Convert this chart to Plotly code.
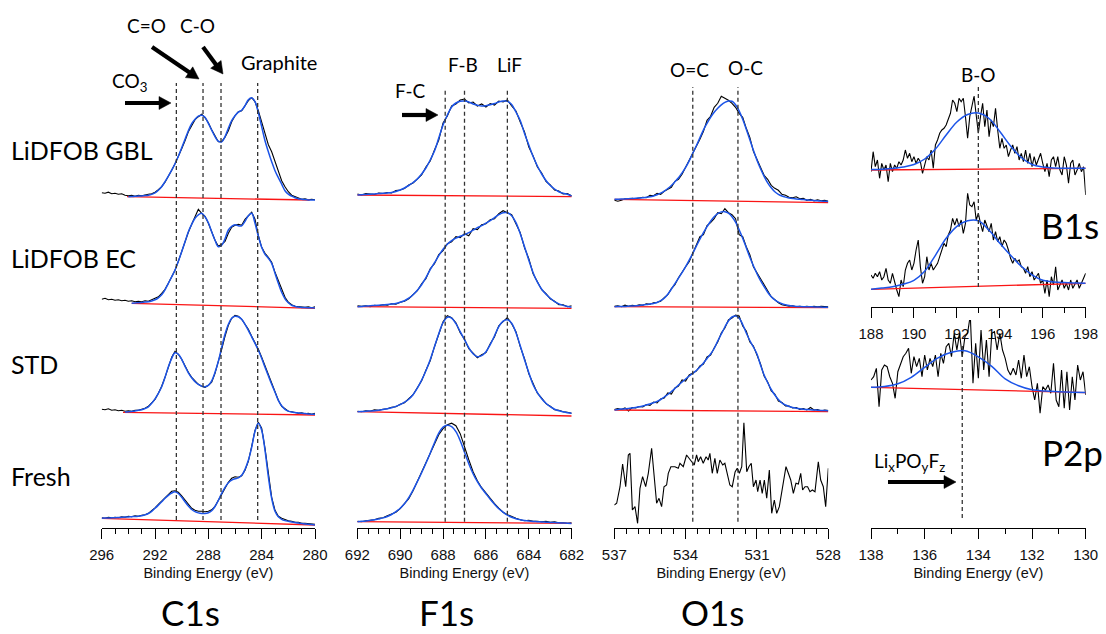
import math
import plotly.graph_objects as go

W, H = 1106, 634


def fx(px):
    return px / W


def fy(py):
    return (H - py) / H


# ---------------------------------------------------------------- C 1s
c1s_be = [296.0, 295.75, 295.5, 295.25, 295.0, 294.75, 294.5, 294.25, 294.0, 293.75, 293.5, 293.25, 293.0,
          292.75, 292.5, 292.25, 292.0, 291.75, 291.5, 291.25, 291.0, 290.75, 290.5, 290.25, 290.0, 289.75,
          289.5, 289.25, 289.0, 288.75, 288.5, 288.25, 288.0, 287.75, 287.5, 287.25, 287.0, 286.75, 286.5,
          286.25, 286.0, 285.75, 285.5, 285.25, 285.0, 284.75, 284.5, 284.25, 284.0, 283.75, 283.5, 283.25,
          283.0, 282.75, 282.5, 282.25, 282.0, 281.75, 281.5, 281.25, 281.0, 280.75, 280.5, 280.25, 280.0]

c1s_gbl_data = [4, 3.5, 4.5, 3, 3.5, 2.5, 3, 1.5, 1, 1.5, 0.5, 1.5, 1,
                2, 2.5, 3, 4.5, 7, 10, 14.5, 20, 26.5, 33, 40, 48, 56,
                65, 71, 77, 80, 82.5, 79, 74, 67, 60.5, 55, 55, 59.5, 66,
                75, 81, 85, 86, 91, 96, 99, 95, 86, 74, 62, 52, 45,
                35, 25, 16, 10, 5, 1.5, 0, -1.5, -2.5, -2, -3, -2.5, -3]
c1s_gbl_fit = [None, None, None, None, None, None, None, None, 0, 0.2, 0.4, 0.6, 0.8,
               1.1, 1.5, 2.3, 3.8, 6.5, 10, 15, 20.5, 26.5, 33, 40.5, 49, 57.5,
               66, 73, 77.5, 80.5, 81.5, 79.5, 73.3, 66.5, 60, 55.5, 55, 60, 68.5,
               76, 81, 84.5, 86.5, 91, 97, 99, 95, 84, 70, 56, 45, 35,
               26, 19, 12.5, 6, 2.5, 0.5, -1, -2, -2.5, -2.9, -3.2, -3.3, -3.4]
c1s_gbl_bg_be = [294.1, 280.4]
c1s_gbl_bg = [0, -3.3]

c1s_ec_data = [4, 5, 3.5, 4, 3, 3.5, 2.5, 3, 2, 2.5, 1.5, 2, 1.5,
               2.5, 2, 3.5, 5, 6.5, 10, 14, 20, 26, 33, 42, 52, 62,
               71, 79, 86, 94, 90, 87, 80, 72, 63, 57, 59, 62, 70,
               76, 78, 79, 78, 84, 88, 91, 84, 68, 56, 50, 46, 41,
               31, 22, 13, 6, 1, -1.5, -3, -3.5, -4, -4, -3.5, -4.5, -3.5]
c1s_ec_fit = [None, None, None, None, None, None, None, None, None, 0, 0.3, 0.6, 0.9,
              1.2, 1.5, 2.3, 3.5, 5.5, 8.5, 13.5, 20, 26.5, 33.3, 42, 51.6, 61.5,
              71.6, 79, 85, 88.5, 90, 86.5, 80.5, 71.6, 63, 56.6, 58, 64.5, 73.3,
              77, 78.5, 77.5, 77.5, 82, 87.5, 90, 80, 67, 56, 49, 45, 40,
              30, 20, 11, 4.5, 0.5, -2, -3, -3.8, -4.1, -4.3, -4.4, -4.5, -4.6]
c1s_ec_bg_be = [293.75, 280.0]
c1s_ec_bg = [0, -5]

c1s_std_data = [3, 2.5, 3.5, 2, 2.5, 1.5, 2, 1, 1.5, 1, 2, 2, 3,
                4, 6, 9, 13, 19, 26, 35, 46, 55, 61, 58, 53, 46,
                40, 35, 31, 28, 26, 25, 27, 30, 39, 50, 63, 76, 87,
                94, 97, 96, 93, 88, 83, 76, 70, 63, 55, 46, 37, 28,
                20, 12, 6, 3, 1, 0.5, -0.5, -1, -0.5, -1.5, -1, -2, -1]
c1s_std_fit = [None, None, None, None, None, None, None, 0.2, 0.5, 0.9, 1.3, 2, 2.6,
               3.8, 5.5, 9, 13.5, 19, 25.6, 35, 45.6, 54, 59.6, 58, 53, 46,
               39.5, 34.5, 30.6, 28, 26, 25.6, 27, 31.5, 40, 51, 65, 78, 88,
               94, 96, 95.5, 93, 88, 82, 75.5, 69, 62, 54, 45, 36.5, 28,
               20, 12, 6.5, 3, 1.2, 0.3, -0.2, -0.6, -1, -1.3, -1.6, -1.9, -2]
c1s_std_bg_be = [294.4, 280.0]
c1s_std_bg = [0, -2.7]

c1s_fresh_data = [0.5, 0, 1, 0.5, 1, 0.5, 1.5, 1, 2, 1.5, 2.5, 2, 3,
                  3.5, 5, 7.5, 10.5, 14, 17, 21, 24, 27, 27.5, 26, 22.5, 18,
                  13.5, 10, 8, 7, 7, 6.5, 7, 8.5, 12, 18, 24, 30, 36,
                  40, 41.5, 41, 42.5, 48, 57, 72, 88, 96, 90, 70, 43, 21,
                  8, 2, 0, -1.5, -2.5, -3, -4, -4, -5, -5, -5.5, -6, -6]
c1s_fresh_fit = [0, 0.2, 0.3, 0.5, 0.6, 0.8, 1, 1.2, 1.4, 1.6, 1.8, 2.1, 2.6,
                 3.4, 4.8, 7, 10, 13.2, 16.5, 20, 23, 25.3, 26.5, 24.8, 21, 16.5,
                 12.2, 8.8, 6.6, 5.4, 4.8, 4.8, 5.6, 7.6, 11.8, 18, 25, 31, 35.5,
                 38.2, 39.5, 40.5, 43, 49, 58, 71, 87, 95, 88, 68, 41.6, 20,
                 7, 1.5, -1, -2.3, -3, -3.6, -4.2, -4.8, -5.2, -5.6, -6, -6.3, -6.6]
c1s_fresh_bg_be = [296.0, 280.0]
c1s_fresh_bg = [0, -6.7]

c1s_peaks = [290.4, 288.4, 287.05, 284.3]

# ---------------------------------------------------------------- F 1s
f1s_be = [692.0, 691.8, 691.6, 691.4, 691.2, 691.0, 690.8, 690.6, 690.4, 690.2,
          690.0, 689.8, 689.6, 689.4, 689.2, 689.0, 688.8, 688.6, 688.4, 688.2,
          688.0, 687.8, 687.6, 687.4, 687.2, 687.0, 686.8, 686.6, 686.4, 686.2,
          686.0, 685.8, 685.6, 685.4, 685.2, 685.0, 684.8, 684.6, 684.4, 684.2,
          684.0, 683.8, 683.6, 683.4, 683.2, 683.0, 682.8, 682.6, 682.4, 682.2,
          682.0]

f1s_gbl_data = [1, 0, 1.5, 1, 0.5, 2, 1.5, 2.5, 2, 4.5,
                5, 6.5, 10, 12, 16.5, 20, 28, 34, 45, 55,
                72, 79, 89, 91, 95, 96, 92, 93, 89, 91,
                88, 91.5, 90, 94, 93, 95, 89, 84, 73, 63,
                48, 39, 28, 22, 13.5, 10, 5, 4, 1, 1.5,
                -1]
f1s_gbl_fit = [0, 0.2, 0.5, 0.8, 1.1, 1.4, 1.7, 2.1, 2.6, 3.5,
               5, 7, 9.5, 12.5, 16, 21, 27, 35, 44, 57,
               70, 80, 88, 92, 93.8, 94, 93, 91, 89.8, 89,
               89.3, 90.2, 91.5, 93, 94, 93.8, 90.5, 83, 74.5, 61.5,
               50, 38.5, 29, 21, 14.5, 9.5, 6, 3.3, 1.8, 0.8,
               -1]
f1s_gbl_bg = [0, -1.7]

f1s_ec_data = [1, 0.5, 1, 0, 1.5, 1, 2, 1.5, 3, 2.5,
               4.5, 5.5, 8, 12.5, 16, 23, 28, 38, 43, 52,
               56, 63, 65, 70, 69, 73, 71, 78, 77, 82,
               83, 87, 88, 93, 96, 94, 92, 83, 74, 59,
               48, 33, 25, 17, 13, 8, 5.5, 2, 2, 0,
               1]
f1s_ec_fit = [0, 0.3, 0.6, 0.9, 1.2, 1.5, 1.8, 2.1, 2.6, 3.3,
              4.5, 6, 8.5, 12, 16.5, 22, 29, 37, 44, 51,
              57.5, 62.5, 66, 68.5, 70.5, 72, 74, 76.5, 79, 81,
              83.5, 86, 89, 92, 94, 94, 91, 84, 73, 60,
              46.5, 34, 24.5, 17.5, 12.5, 8.5, 5, 2.8, 1.3, 0.3,
              -0.5]
f1s_ec_bg = [0, -1.7]

f1s_std_data = [0.5, 0, 1, 0.5, 2, 1.5, 2.5, 3, 4.5, 5,
                7.5, 9, 13, 17, 24, 31, 41.5, 51, 65, 77,
                90, 96, 94, 89, 79, 72.5, 63, 58.5, 54, 57,
                59, 68, 75, 86, 90, 94, 88, 80, 65, 53,
                38, 28, 18.5, 13.5, 8, 5.5, 2, 1.5, 0, -0.5,
                -1.5]
f1s_std_fit = [0, 0.2, 0.4, 0.7, 1, 1.5, 2.2, 3, 4, 5.3,
               7, 9.5, 12.5, 17, 23.5, 31.5, 41, 52, 65, 78,
               89, 94.5, 93.5, 88, 80, 72, 64, 58, 55, 56,
               60, 67, 76, 85, 90.5, 92, 88.5, 79, 66, 52,
               39, 27, 19, 13, 8.5, 5, 2.5, 1, 0, -1,
               -1.5]
f1s_std_bg = [0, -4.3]

f1s_fresh_data = [0.5, 0, 1, 1.5, 2, 3.5, 4, 6, 7.5, 9.5,
                  13, 17.5, 23, 31, 40.5, 49, 58, 68, 78, 87,
                  93, 97, 98.5, 96, 88, 74, 62, 50, 41, 34,
                  28.5, 22.5, 18, 13.5, 9.5, 7, 5, 3.5, 2, 1,
                  1.5, 0.5, 0.5, 0, 0.5, -0.5, 0, -1, -1, -1.5,
                  -1]
f1s_fresh_fit = [0, 0.4, 0.8, 1.3, 1.9, 2.8, 3.8, 5.2, 7.2, 10,
                 13.5, 18, 24, 31.5, 40, 49, 58.5, 68.5, 79, 88.5,
                 94.5, 96.5, 95, 90, 81, 69.5, 58, 48, 40, 33.5,
                 28, 22.5, 17.5, 13, 9.5, 6.5, 4.5, 3, 2, 1.2,
                 0.6, 0.2, 0, -0.3, -0.5, -0.7, -0.9, -1.1, -1.3, -1.5,
                 -1.7]
f1s_fresh_bg = [0, -1.7]
f1s_bg_be = [692.0, 682.0]

f1s_peaks = [687.9, 687.0, 685.0]

# ---------------------------------------------------------------- O 1s
o1s_be = [537.0, 536.85, 536.7, 536.55, 536.4, 536.25, 536.1, 535.95, 535.8, 535.65,
          535.5, 535.35, 535.2, 535.05, 534.9, 534.75, 534.6, 534.45, 534.3, 534.15,
          534.0, 533.85, 533.7, 533.55, 533.4, 533.25, 533.1, 532.95, 532.8, 532.65,
          532.5, 532.35, 532.2, 532.05, 531.9, 531.75, 531.6, 531.45, 531.3, 531.15,
          531.0, 530.85, 530.7, 530.55, 530.4, 530.25, 530.1, 529.95, 529.8, 529.65,
          529.5, 529.35, 529.2, 529.05, 528.9, 528.75, 528.6, 528.45, 528.3, 528.15,
          528.0]

o1s_gbl_data = [-1, -2, -1, 0.5, 0, 1, 0.5, 1.5, 2, 1.5,
                4, 3.5, 6, 5, 8, 10, 12, 18, 20, 25,
                32, 39, 45, 52, 60, 68, 79, 83, 92, 96,
                103, 101, 99, 96, 92, 86, 82, 71, 62, 48,
                40, 31, 24, 20, 14, 11, 9, 5, 4, 2,
                1.5, 2.5, 0.5, 1, -1, 0, -1.5, -0.5, -1.5, -1,
                -2]
o1s_gbl_fit = [0, 0.1, 0.2, 0.4, 0.6, 0.8, 1.0, 1.3, 1.6, 2.0,
               2.6, 3.4, 4.5, 6.2, 8.2, 10.8, 13.8, 17.5, 21.5, 26.5,
               32, 38.5, 46, 53.5, 61.5, 69.5, 76, 82, 87, 91,
               94.5, 97, 98.3, 98, 94.5, 88.5, 80, 70, 59.5, 49,
               39, 30.5, 23, 16.5, 11.5, 7.5, 5, 3.3, 2.2, 1.4,
               0.8, 0.3, 0, -0.3, -0.6, -0.9, -1.2, -1.5, -1.8, -2.0,
               -2.3]
o1s_gbl_bg = [0, -3.4]

o1s_ec_data = [0.5, 1, 0, 1.5, 0.5, 1.5, 1, 2, 1.5, 3,
               2.5, 4, 4.5, 5.5, 9, 12, 18, 22, 29, 35,
               40, 45, 53, 62, 70, 72, 81, 84, 88, 94,
               93, 98, 94, 92, 88, 72, 70, 60, 52, 40,
               34, 27, 21, 15, 10, 7, 4, 2, 1, 0.5,
               1, 0, 0.5, 0, 0.5, 0, 0.5, 0, 0.5, 0,
               0]
o1s_ec_fit = [0, 0.1, 0.2, 0.3, 0.5, 0.7, 0.9, 1.2, 1.6, 2.1,
              2.7, 3.3, 4.2, 6, 8.5, 12.5, 17.5, 23, 28.5, 34,
              40, 46.5, 53.4, 60.5, 67.5, 74, 80, 85.5, 90, 93,
              94.8, 95, 93.5, 90, 84.5, 77, 68.5, 59, 49.5, 41,
              33, 26, 20, 14.5, 10, 6.8, 4.5, 3, 2, 1.2,
              0.7, 0.3, 0.1, 0, 0, -0.1, -0.2, -0.3, -0.4, -0.5,
              -0.6]
o1s_ec_bg = [0, -1]

o1s_std_data = [0.5, 1.5, 0.5, 2, -1, 2.5, 2, 3.5, 3, 5.5,
                4.5, 8, 7, 11, 12, 17, 16, 22, 24, 30,
                29, 35, 37, 39, 44, 46, 53, 55, 62, 68,
                77, 82, 90, 92, 95, 94, 84, 79, 68, 64,
                55, 46, 34, 28, 19, 16, 9, 7.5, 4, 4,
                2, 2.5, 0.5, 1.5, 0, 2.5, 0, 0.5, -1, 0,
                -0.5]
o1s_std_fit = [0, 0.5, 0.9, 1.2, 1.5, 2, 2.6, 3.3, 4.1, 5,
               6, 7.2, 8.6, 10.5, 13, 15.5, 18.5, 21.5, 25, 28,
               31, 34, 36.7, 39.5, 43, 47, 51.5, 56, 61.5, 69,
               76, 83, 89, 93, 94, 92, 85.5, 77, 69.5, 63,
               56, 45, 35, 27.5, 20.5, 15, 10.5, 7, 5, 3.5,
               2.5, 1.8, 1.2, 0.8, 0.5, 0.2, 0, -0.2, -0.4, -0.5,
               -0.7]
o1s_std_bg = [0, -1.7]
o1s_bg_be = [537.0, 528.0]

o1s_fresh_be = [537.00, 536.90, 536.76, 536.65, 536.52, 536.41, 536.34, 536.24, 536.13, 536.02,
                535.92, 535.81, 535.68, 535.57, 535.43, 535.33, 535.22, 535.12, 535.01, 534.91,
                534.80, 534.73, 534.62, 534.45, 534.31, 534.24, 534.10, 533.96, 533.85, 533.75,
                533.64, 533.54, 533.47, 533.37, 533.26, 533.14, 533.05, 532.98, 532.88, 532.77,
                532.67, 532.56, 532.44, 532.35, 532.25, 532.14, 532.04, 531.92, 531.83, 531.74,
                531.64, 531.55, 531.43, 531.34, 531.24, 531.15, 531.04, 530.97, 530.87, 530.78,
                530.69, 530.59, 530.48, 530.38, 530.27, 530.17, 530.06, 529.96, 529.86, 529.78,
                529.68, 529.58, 529.47, 529.36, 529.26, 529.16, 529.08, 528.98, 528.87, 528.77,
                528.67, 528.56, 528.42, 528.32, 528.21, 528.11, 528.00]
o1s_fresh_data = [16, 17.7, 34.3, 57, 34.3, 66, 67.7, 11, 14.3, -2.3,
                  32.7, 44.3, 34.3, 47.7, 72.7, 47.7, 17.7, 22.7, 14.3, 34.3,
                  36, 47.7, 54.3, 54.3, 52.7, 57.7, 54.3, 66, 62.7, 59.3,
                  56, 66, 59.3, 64.3, 57.7, 64.3, 61, 67.7, 47.7, 62.7,
                  47.7, 61, 56, 57.7, 47.7, 36, 34.3, 49, 52.7, 47.7,
                  54.3, 98.3, 49.3, 54.3, 57.7, 34.3, 41, 29.3, 41, 27.7,
                  41, 22.7, 51, 7.7, 21, 7.7, 14.3, 27.7, 39.3, 54.3,
                  47.7, 41, 27.7, 37.7, 37, 47.7, 31, 34.3, 34.3, 29.3,
                  31, 29.3, 59.3, 41, 34.3, 14.3, 52.7]

o1s_peaks = [533.7, 531.8]

# ---------------------------------------------------------------- B 1s
b1s_be = [188.0, 188.1, 188.2, 188.3, 188.4, 188.5, 188.6, 188.7, 188.8, 188.9,
          189.0, 189.1, 189.2, 189.3, 189.4, 189.5, 189.6, 189.7, 189.8, 189.9,
          190.0, 190.1, 190.2, 190.3, 190.4, 190.5, 190.6, 190.7, 190.8, 190.9,
          191.0, 191.1, 191.2, 191.3, 191.4, 191.5, 191.6, 191.7, 191.8, 191.9,
          192.0, 192.1, 192.2, 192.3, 192.4, 192.5, 192.6, 192.7, 192.8, 192.9,
          193.0, 193.1, 193.2, 193.3, 193.4, 193.5, 193.6, 193.7, 193.8, 193.9,
          194.0, 194.1, 194.2, 194.3, 194.4, 194.5, 194.6, 194.7, 194.8, 194.9,
          195.0, 195.1, 195.2, 195.3, 195.4, 195.5, 195.6, 195.7, 195.8, 195.9,
          196.0, 196.1, 196.2, 196.3, 196.4, 196.5, 196.6, 196.7, 196.8, 196.9,
          197.0, 197.1, 197.2, 197.3, 197.4, 197.5, 197.6, 197.7, 197.8, 197.9,
          198.0]
b1s_fit_be = [188.0, 188.5, 189.0, 189.5, 190.0, 190.5, 191.0, 191.5, 192.0, 192.5,
              193.0, 193.5, 194.0, 194.5, 195.0, 195.5, 196.0, 196.5, 197.0, 197.5,
              198.0]

b1s_gbl_data = [-1.7, 18.3, 3.3, 10, -8.3, 6.7, 0, 5, -11.7, 6.7,
                -1.7, 5, 1.7, 8.3, 5, 10, 20, 11.7, 16.7, 8.3,
                13.3, 6.7, 11.7, 8.3, -3.3, 5, 13.3, 10, 20, 1.7,
                25, 30, 36.7, 40, 41.7, 45, 50, 56.7, 70, 66.7,
                58.3, 71.7, 68.3, 71.7, 53.3, 31.7, 53.3, 63.3, 74, 55,
                36.7, 53.3, 66.7, 43.3, 60, 33.3, 50, 43.3, 61.7, 40,
                21.7, 31.7, 21.7, 25, 13.3, 20, 25, 16.7, 23.3, 10,
                16.7, 8.3, 20, 6.7, 16.7, 3.3, 13.3, 5, 10, 16.7,
                6.7, -1.7, 6.7, -6.7, 10, 13.3, 3.3, 13.3, 0, -5,
                13.3, 5, -13.3, 6.7, 10, -5, 0, 6.7, -1.7, 3.3,
                -25]
b1s_gbl_fit = [0.5, 0.8, 1.5, 3, 5.5, 11, 21, 35, 48, 55.5,
               57, 51.5, 38.5, 24, 12.5, 5.5, 3, 2, 1.8, 1.7,
               1.7]
b1s_gbl_bg = [0, 1.7]

b1s_ec_data = [14.3, 11, 16, 12.6, 17.6, 9.3, 12.6, 21, 9.3, 6,
               16, 6, -0.7, -7.4, 9.3, 2.6, 19.3, 26, 29.3, 19.3,
               26, 39.3, 49.3, 22.6, 6, 12.6, 32.6, 19.3, 26, 19.3,
               22.6, 26, 32.6, 39.3, 46, 42.6, 54.3, 59.3, 71, 64.3,
               71, 62.6, 69.3, 56, 66, 96, 84.3, 82.6, 87.6, 69.3,
               76, 66, 57.6, 69.3, 62.6, 57.6, 66, 49.3, 57.6, 47.6,
               52.6, 42.6, 49.3, 46, 39.3, 31, 26, 31, 27.6, 29.3,
               22.6, 21, 16, 22.6, 12.6, 17.6, 9.3, 12.6, 16, 6,
               9.3, -4, 9.3, -7.4, 12.6, 4.3, 22.6, -0.7, 4.3, 9.3,
               1, 6, -0.7, 9.3, 1, 6, 9.3, 1, 6, 9.3,
               16]
b1s_ec_fit = [0, 1.2, 2.5, 5, 9, 18, 34, 51, 63, 68.5,
              68.5, 59, 46, 34, 23, 14.5, 9, 7.3, 6.7, 6.3,
              6]
b1s_ec_bg = [0, 6]
b1s_bg_be = [188.0, 198.0]

b1s_peaks = [193.0]

# ---------------------------------------------------------------- P 2p
p2p_be = [138.0, 137.9, 137.8, 137.7, 137.6, 137.5, 137.4, 137.3, 137.2, 137.1,
          137.0, 136.9, 136.8, 136.7, 136.6, 136.5, 136.4, 136.3, 136.2, 136.1,
          136.0, 135.9, 135.8, 135.7, 135.6, 135.5, 135.4, 135.3, 135.2, 135.1,
          135.0, 134.9, 134.8, 134.7, 134.6, 134.5, 134.4, 134.3, 134.2, 134.1,
          134.0, 133.9, 133.8, 133.7, 133.6, 133.5, 133.4, 133.3, 133.2, 133.1,
          133.0, 132.9, 132.8, 132.7, 132.6, 132.5, 132.4, 132.3, 132.2, 132.1,
          132.0, 131.9, 131.8, 131.7, 131.6, 131.5, 131.4, 131.3, 131.2, 131.1,
          131.0, 130.9, 130.8, 130.7, 130.6, 130.5, 130.4, 130.3, 130.2, 130.1,
          130.0]
p2p_fit_be = [138.0, 137.5, 137.0, 136.5, 136.0, 135.5, 135.0, 134.5, 134.0,
              133.5, 133.0, 132.5, 132.0, 131.5, 131.0, 130.5, 130.0]

p2p_std_data = [7.3, 10.6, 19, -19.4, 17.3, 22.3, 20.6, 10.6, 4, -11,
                15.6, 22.3, 30.6, 34, 39, 14, 30.6, 20.6, 29, 10.6,
                32.3, 17.3, 29, 20.6, 32.3, 10.6, 34, 24, 40.6, 44,
                30.6, 54, 37.3, 54, 30.6, 50.6, 54, 72.3, 4, 44,
                9, 57.3, 17.3, 47.3, 10.6, 54, 55.6, 37.3, 54, 37.3,
                29, 17.3, 12.3, 19, 12.3, 27.3, 9, 32.3, 10.6, 20.6,
                0.6, -12.7, 4, -26, 0.6, -2.7, 2.3, -6, 24, -12.7,
                -19.4, 17.3, -21, 15.6, -22.7, 10.6, -12.7, 22.3, 7.3, 15.6,
                -7.7]
p2p_std_fit = [0, 0.8, 3.5, 10, 20, 29.5, 35, 36.5, 30.5,
               21, 8.5, 1.5, -2.5, -3.8, -4.4, -4.9, -5.3]
p2p_std_bg_be = [138.0, 130.0]
p2p_std_bg = [0, -5.3]

p2p_peaks = [134.6]

# ---------------------------------------------------------------- styling
BLACK = "#000000"
BLUE = "rgb(28,84,232)"
RED = "rgb(250,20,20)"
DASH = "#333333"
TEXT_FONT = "Lato, 'Open Sans', sans-serif"
TICK_FONT = "'Liberation Sans', Arial, sans-serif"

# vertical stacking of the spectra inside each panel (axis units)
STACK = {
    "c1s": {"gbl": 331.3, "ec": 224.7, "std": 115.7, "fresh": 9.7},
    "f1s": {"gbl": 333.0, "ec": 221.3, "std": 116.3, "fresh": 6.3},
    "o1s": {"gbl": 328.7, "ec": 221.3, "std": 118.0, "fresh": 7.0},
    "b1s": {"gbl": 137.0, "ec": 17.7},
    "p2p": {"std": 140.7},
}

AXES = {"c1s": ("x", "y"), "f1s": ("x2", "y2"), "o1s": ("x3", "y3"),
        "b1s": ("x4", "y4"), "p2p": ("x5", "y5")}

fig = go.Figure()


def shifted(vals, off):
    return [None if v is None else v + off for v in vals]


def add_line(panel, be, vals, off, color, width, shape="linear"):
    xa, ya = AXES[panel]
    fig.add_trace(go.Scatter(
        x=be, y=shifted(vals, off), mode="lines", xaxis=xa, yaxis=ya,
        line=dict(color=color, width=width, shape=shape), hoverinfo="skip",
        connectgaps=False,
    ))


def add_spectrum(panel, row, be, data, fit=None, fit_be=None, bg_be=None, bg=None):
    off = STACK[panel][row]
    add_line(panel, be, data, off, BLACK, 1.1)
    if bg is not None:
        add_line(panel, bg_be, bg, off, RED, 1.3)
    if fit is not None:
        add_line(panel, fit_be if fit_be is not None else be, fit, off, BLUE, 1.5, "spline")


add_spectrum("c1s", "gbl", c1s_be, c1s_gbl_data, c1s_gbl_fit, None, c1s_gbl_bg_be, c1s_gbl_bg)
add_spectrum("c1s", "ec", c1s_be, c1s_ec_data, c1s_ec_fit, None, c1s_ec_bg_be, c1s_ec_bg)
add_spectrum("c1s", "std", c1s_be, c1s_std_data, c1s_std_fit, None, c1s_std_bg_be, c1s_std_bg)
add_spectrum("c1s", "fresh", c1s_be, c1s_fresh_data, c1s_fresh_fit, None, c1s_fresh_bg_be, c1s_fresh_bg)

add_spectrum("f1s", "gbl", f1s_be, f1s_gbl_data, f1s_gbl_fit, None, f1s_bg_be, f1s_gbl_bg)
add_spectrum("f1s", "ec", f1s_be, f1s_ec_data, f1s_ec_fit, None, f1s_bg_be, f1s_ec_bg)
add_spectrum("f1s", "std", f1s_be, f1s_std_data, f1s_std_fit, None, f1s_bg_be, f1s_std_bg)
add_spectrum("f1s", "fresh", f1s_be, f1s_fresh_data, f1s_fresh_fit, None, f1s_bg_be, f1s_fresh_bg)

add_spectrum("o1s", "gbl", o1s_be, o1s_gbl_data, o1s_gbl_fit, None, o1s_bg_be, o1s_gbl_bg)
add_spectrum("o1s", "ec", o1s_be, o1s_ec_data, o1s_ec_fit, None, o1s_bg_be, o1s_ec_bg)
add_spectrum("o1s", "std", o1s_be, o1s_std_data, o1s_std_fit, None, o1s_bg_be, o1s_std_bg)
add_spectrum("o1s", "fresh", o1s_fresh_be, o1s_fresh_data)

add_spectrum("b1s", "gbl", b1s_be, b1s_gbl_data, b1s_gbl_fit, b1s_fit_be, b1s_bg_be, b1s_gbl_bg)
add_spectrum("b1s", "ec", b1s_be, b1s_ec_data, b1s_ec_fit, b1s_fit_be, b1s_bg_be, b1s_ec_bg)

add_spectrum("p2p", "std", p2p_be, p2p_std_data, p2p_std_fit, p2p_fit_be, p2p_std_bg_be, p2p_std_bg)

# dashed peak markers: (panel, energies, bottom, top) in axis units
markers = [
    ("c1s", c1s_peaks, 8, 445),
    ("f1s", f1s_peaks, 6.3, 438),
    ("o1s", o1s_peaks, 6.3, 441),
    ("b1s", b1s_peaks, 20, 222),
    ("p2p", p2p_peaks, 10, 183),
]
for panel, energies, y0, y1 in markers:
    xa, ya = AXES[panel]
    for e in energies:
        fig.add_shape(type="line", xref=xa, yref=ya, x0=e, x1=e, y0=y0, y1=y1,
                      line=dict(color=DASH, width=1.3, dash="4px,3px"))


def xaxis_style(left, right, rng, dtick, minor, tick0, title=True):
    d = dict(
        domain=[fx(left), fx(right)], range=rng, showgrid=False, zeroline=False,
        showline=True, linecolor=BLACK, linewidth=1.2, mirror=False,
        ticks="outside", ticklen=10, tickwidth=1.2, tickcolor=BLACK,
        ticklabelstandoff=3,
        dtick=dtick, tick0=tick0, tickfont=dict(family=TICK_FONT, size=15, color="#111"),
        minor=dict(dtick=minor, tick0=tick0, ticks="outside", ticklen=5,
                   tickwidth=1.2, tickcolor=BLACK, showgrid=False),
        fixedrange=True, automargin=False,
    )
    if title:
        d["title"] = dict(text="Binding Energy (eV)", standoff=5,
                          font=dict(family=TICK_FONT, size=14.5, color="#111"))
    return d


def yaxis_style(bottom, top, anchor):
    return dict(domain=[fy(bottom), fy(top)], range=[0, bottom - top], visible=False,
                anchor=anchor, fixedrange=True)


fig.update_layout(
    width=W, height=H, margin=dict(l=0, r=0, t=0, b=0, pad=0, autoexpand=False),
    paper_bgcolor="white", plot_bgcolor="rgba(0,0,0,0)",
    showlegend=False, hovermode=False,
    xaxis=dict(xaxis_style(101.7, 315, [296, 280], 4, 1, 280), anchor="y"),
    xaxis2=dict(xaxis_style(357.3, 571.7, [692, 682], 2, 0.5, 682), anchor="y2"),
    xaxis3=dict(xaxis_style(614.3, 828.3, [537, 528], 3, 0.5, 528), anchor="y3"),
    xaxis4=dict(xaxis_style(871, 1085.7, [188, 198], 2, 1, 188, title=False), anchor="y4"),
    xaxis5=dict(xaxis_style(871, 1085.7, [138, 130], 2, 1, 130), anchor="y5"),
    yaxis=yaxis_style(528, 40, "x"),
    yaxis2=yaxis_style(528, 40, "x2"),
    yaxis3=yaxis_style(528, 40, "x3"),
    yaxis4=yaxis_style(307, 60, "x4"),
    yaxis5=yaxis_style(528, 320, "x5"),
)

# text labels (text, x px, y px, size, horizontal anchor, vertical anchor)
labels = [
    ("C=O", 146, 26, 19, "center", "middle"), ("C-O", 197, 26, 19, "center", "middle"),
    ("Graphite", 279, 62, 20, "center", "middle"), ("CO<sub>3</sub>", 129, 82, 19, "center", "middle"),
    ("F-C", 410, 90, 19, "center", "middle"), ("F-B", 463, 64, 19, "center", "middle"),
    ("LiF", 509, 64, 19, "center", "middle"),
    ("O=C", 689, 70, 19, "center", "middle"), ("O-C", 745, 67, 19, "center", "middle"),
    ("B-O", 978, 74, 19, "center", "middle"),
    ("Li<sub>x</sub>PO<sub>y</sub>F<sub>z</sub>", 909, 462, 19, "center", "middle"),
    ("B1s", 1070, 225, 35, "center", "middle"), ("P2p", 1072, 452, 35, "center", "middle"),
    ("C1s", 190, 634, 35, "center", "bottom"), ("F1s", 447, 634, 35, "center", "bottom"),
    ("O1s", 712, 634, 35, "center", "bottom"),
    ("LiDFOB GBL", 10, 150, 25, "left", "middle"), ("LiDFOB EC", 10, 258, 25, "left", "middle"),
    ("STD", 10, 364, 25, "left", "middle"), ("Fresh", 10, 476, 25, "left", "middle"),
]
for text, px, py, size, xanc, yanc in labels:
    fig.add_annotation(text=text, x=fx(px), y=fy(py), xref="paper", yref="paper",
                       xanchor=xanc, yanchor=yanc, showarrow=False, borderpad=0,
                       font=dict(family=TEXT_FONT, size=size, color=BLACK))

# pointer arrows (tail x, tail y, head x, head y) in px, drawn as shaft + head
arrows = [
    (125, 103, 171, 103),
    (152, 47, 199, 79),
    (203, 47, 223, 74),
    (402, 115, 438, 115),
    (888, 482, 956, 482),
]
HEAD_LEN, HEAD_HALF, SHAFT = 12, 6.5, 4.2
for tx, ty, hx, hy in arrows:
    dx, dy = hx - tx, hy - ty
    d = math.hypot(dx, dy)
    ux, uy = dx / d, dy / d
    nx, ny = -uy, ux
    bx, by = hx - HEAD_LEN * ux, hy - HEAD_LEN * uy
    fig.add_shape(type="line", xref="paper", yref="paper",
                  x0=fx(tx), y0=fy(ty), x1=fx(bx + ux), y1=fy(by + uy),
                  line=dict(color=BLACK, width=SHAFT))
    path = "M {:.5f},{:.5f} L {:.5f},{:.5f} L {:.5f},{:.5f} Z".format(
        fx(hx), fy(hy),
        fx(bx + HEAD_HALF * nx), fy(by + HEAD_HALF * ny),
        fx(bx - HEAD_HALF * nx), fy(by - HEAD_HALF * ny))
    fig.add_shape(type="path", xref="paper", yref="paper", path=path,
                  fillcolor=BLACK, line=dict(color=BLACK, width=0.5))

fig.write_html("out.html")
